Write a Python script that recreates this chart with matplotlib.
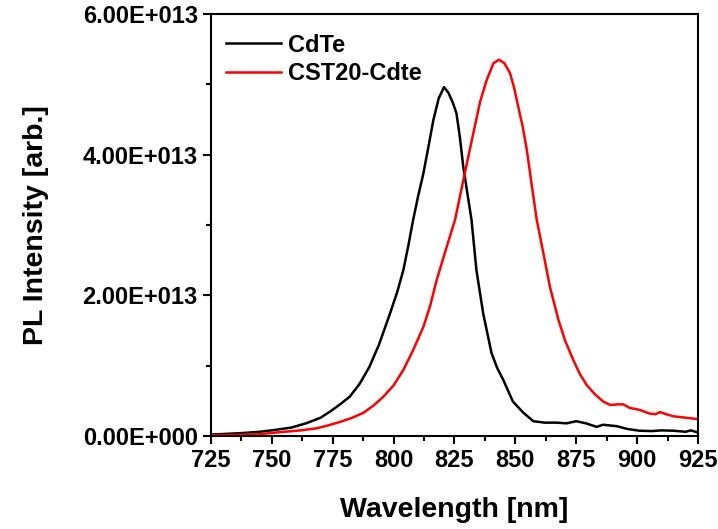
import matplotlib
matplotlib.use('Agg')
import matplotlib.pyplot as plt
from matplotlib.ticker import MultipleLocator

plt.rcParams['font.family'] = ['Liberation Sans', 'DejaVu Sans']
plt.rcParams['font.weight'] = 'bold'

# values (wavelength nm, intensity in 1E13)
cdte_x = [725, 737, 745, 751, 758, 764, 770, 774, 778, 782, 786, 790, 794, 798.5,
          801.5, 804, 806, 808, 810, 812.2, 814.5, 816.3, 818.5, 820.7, 822.5,
          824.2, 825.8, 827.2, 828.6, 830.3, 832, 834, 836.8, 840.2, 842.5, 845,
          849, 853.3, 857.4, 862, 867, 871, 875, 879, 883.4, 886, 891.6, 896, 901,
          906, 910, 915, 920, 922, 925]
cdte_y = [0.02, 0.04, 0.06, 0.085, 0.12, 0.18, 0.26, 0.35, 0.45, 0.56, 0.74, 0.98,
          1.30, 1.74, 2.05, 2.36, 2.70, 3.07, 3.40, 3.73, 4.15, 4.49, 4.80, 4.96,
          4.88, 4.75, 4.59, 4.25, 3.83, 3.45, 3.07, 2.36, 1.74, 1.18, 0.97, 0.80,
          0.49, 0.33, 0.21, 0.19, 0.19, 0.18, 0.21, 0.18, 0.13, 0.16, 0.14, 0.10,
          0.075, 0.07, 0.08, 0.075, 0.06, 0.08, 0.05]

cst_x = [725, 735, 744, 755, 762, 768.4, 773, 778, 783, 787.6, 792, 795.8, 800, 804,
         808, 812.2, 815, 817.7, 821.8, 825.2, 829, 832.7, 835.5, 838.2, 841, 843.3,
         845.5, 847.8, 849.5, 851.2, 853, 854.7, 856.8, 858.8, 861.5, 864.2, 867.7,
         870.5, 873.8, 876.5, 879.3, 882.5, 886.1, 889, 892, 894.3, 897, 901.2, 905,
         907.5, 909.4, 912, 914.9, 920, 925]
cst_y = [0.01, 0.015, 0.024, 0.06, 0.08, 0.11, 0.15, 0.2, 0.26, 0.33, 0.44, 0.56,
         0.72, 0.94, 1.22, 1.55, 1.85, 2.22, 2.69, 3.07, 3.7, 4.30, 4.75, 5.06, 5.30,
         5.35, 5.30, 5.16, 4.95, 4.68, 4.40, 4.07, 3.55, 3.07, 2.60, 2.12, 1.65, 1.35,
         1.08, 0.88, 0.725, 0.60, 0.49, 0.44, 0.45, 0.45, 0.40, 0.37, 0.32, 0.31, 0.34,
         0.31, 0.28, 0.26, 0.24]

ytick_vals = [0, 2, 4, 6]
ytick_labels = ['0.00E+000', '2.00E+013', '4.00E+013', '6.00E+013']

fig = plt.figure(figsize=(7.18, 5.29), dpi=100)
ax = fig.add_axes([0.2939, 0.1758, 0.9721 - 0.2939, 0.9735 - 0.1758])

ax.plot(cdte_x, cdte_y, color='black', lw=1.8, label='CdTe')
ax.plot(cst_x, cst_y, color='red', lw=1.8, label='CST20-Cdte')

ax.set_xlim(725, 925)
ax.set_ylim(0, 6)
ax.xaxis.set_major_locator(MultipleLocator(25))
ax.xaxis.set_minor_locator(MultipleLocator(12.5))
ax.set_yticks(ytick_vals)
ax.set_yticklabels(ytick_labels)
ax.yaxis.set_minor_locator(MultipleLocator(1))

ax.tick_params(which='both', direction='out', top=False, right=False, width=1.5,
               labelsize=17)
ax.tick_params(which='major', length=6)
ax.tick_params(which='minor', length=3.5)
for s in ax.spines.values():
    s.set_linewidth(1.5)

ax.set_xlabel('Wavelength [nm]', fontsize=20.5, fontweight='bold', labelpad=18)
ax.set_ylabel('PL Intensity [arb.]', fontsize=20.5, fontweight='bold', labelpad=24)

ax.legend(loc='upper left', frameon=False, fontsize=17, handlelength=2.3,
          handletextpad=0.3, borderaxespad=0.25, labelspacing=0.25,
          bbox_to_anchor=(0.0, 0.99))

fig.savefig('out.png', dpi=100)
